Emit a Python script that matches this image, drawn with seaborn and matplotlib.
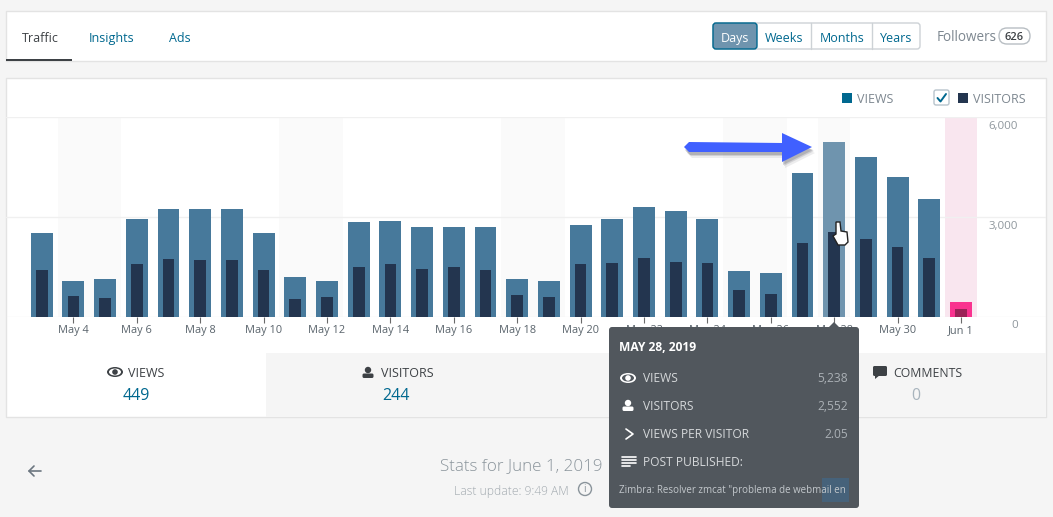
import matplotlib
matplotlib.use("Agg")
import matplotlib.pyplot as plt
from matplotlib.patches import Rectangle, FancyBboxPatch, Polygon, Circle, Ellipse
from matplotlib.transforms import ScaledTranslation
import seaborn as sns
import pandas as pd

# ---- data ----
days = ["May 3","May 4","May 5","May 6","May 7","May 8","May 9","May 10","May 11","May 12",
        "May 13","May 14","May 15","May 16","May 17","May 18","May 19","May 20","May 21","May 22",
        "May 23","May 24","May 25","May 26","May 27","May 28","May 29","May 30","May 31","Jun 1"]
views = [2520,1080,1140,2940,3240,3240,3240,2520,1200,1080,
         2850,2880,2700,2700,2700,1140,1080,2760,2940,3300,
         3180,2940,1380,1320,4320,5238,4800,4200,3540,449]
visitors = [1410,630,570,1590,1740,1710,1710,1410,540,600,
            1500,1590,1440,1500,1410,660,600,1590,1620,1770,
            1650,1620,810,690,2220,2552,2340,2100,1770,244]
weekend_days = ["May 4","May 5","May 11","May 12","May 18","May 19","May 25","May 26"]
hover_day = "May 28"
today = "Jun 1"
tick_days = days[1::2]
y_ticks = [0, 3000, 6000]
y_labels = ["0", "3,000", "6,000"]

VIEW = "#47799b"; VIEW_H = "#6f94ae"; VIEW_T = "#f9328f"
VIS = "#23354f"; VIS_T = "#9b2257"
BG = "#f5f5f5"; BORDER = "#e3e3e3"; LINK = "#00688f"; GREY = "#7d8790"; DARK = "#3d4145"
TIP = "#51575d"; TIPTXT = "#d5d8da"

W, H = 1053, 517
sns.set_theme(style="white")
plt.rcParams["font.family"] = ["Open Sans", "DejaVu Sans"]
fig = plt.figure(figsize=(W/100, H/100), dpi=100, facecolor=BG)

def layer(z):
    a = fig.add_axes([0, 0, 1, 1], zorder=z)
    a.set_xlim(0, W); a.set_ylim(H, 0); a.axis("off"); a.patch.set_alpha(0)
    return a

bg = layer(0)
fg = layer(5)

def px(v): return v * 0.72  # px -> pt

def box(a, x0, y0, x1, y1, fc="white", ec="none", lw=1, z=1, alpha=None):
    a.add_patch(Rectangle((x0, y0), x1-x0, y1-y0, fc=fc, ec=ec, lw=lw, zorder=z, alpha=alpha))

def rbox(a, x0, y0, x1, y1, r=3, fc="white", ec="none", lw=1, z=1):
    a.add_patch(FancyBboxPatch((x0+r, y0+r), x1-x0-2*r, y1-y0-2*r,
                               boxstyle=f"round,pad={r},rounding_size={r}",
                               fc=fc, ec=ec, lw=lw, zorder=z))

def txt(a, x, y, s, size=13, color=DARK, ha="left", weight="normal", z=3):
    a.text(x, y + 1.5, s, fontsize=px(size), color=color, ha=ha, va="center", weight=weight, zorder=z)

def eye(a, cx, cy, c, z=4):
    a.add_patch(Ellipse((cx, cy), 16, 10, fc=c, ec="none", zorder=z))
    a.add_patch(Ellipse((cx, cy), 12, 7, fc=a_bgcolor[id(a)], ec="none", zorder=z))
    a.add_patch(Circle((cx, cy), 2.8, fc=c, ec="none", zorder=z))

def person(a, cx, cy, c, z=4):
    a.add_patch(Circle((cx, cy-3), 3.2, fc=c, ec="none", zorder=z))
    a.add_patch(FancyBboxPatch((cx-4, cy+2), 8, 1.5, boxstyle="round,pad=1.5,rounding_size=1.5",
                               fc=c, ec="none", zorder=z))

a_bgcolor = {id(bg): "white", id(fg): TIP}

# ---- page panels ----
box(bg, 6, 11, 1046, 61, ec=BORDER)
box(bg, 6, 78, 1046, 417, ec=BORDER)
box(bg, 266, 353, 1046, 417, fc=BG)
box(bg, 6, 59, 72, 61, fc=DARK, z=2)

txt(bg, 22, 37, "Traffic", 12.5, DARK)
txt(bg, 89, 37, "Insights", 12.5, LINK)
txt(bg, 169, 37, "Ads", 12.5, LINK)

rbox(bg, 713, 23, 920, 49, fc="white", ec="#cdd2d6")
rbox(bg, 713, 23, 757, 49, fc=VIEW_H, ec=LINK, z=2)
for xs in (811, 872):
    bg.plot([xs, xs], [23, 49], color="#cdd2d6", lw=1, zorder=2)
txt(bg, 735, 37, "Days", 12.5, "white", ha="center")
txt(bg, 784.5, 37, "Weeks", 12.5, LINK, ha="center")
txt(bg, 842, 37, "Months", 12.5, LINK, ha="center")
txt(bg, 896.5, 37, "Years", 12.5, LINK, ha="center")
txt(bg, 937, 36, "Followers", 13.5, GREY)
rbox(bg, 999, 28, 1030, 44, r=8, fc="white", ec="#b8bec3")
txt(bg, 1014.5, 36, "626", 11, DARK, ha="center", weight="semibold")

# legend
box(bg, 842, 93, 852, 103, fc=LINK)
txt(bg, 857, 98, "VIEWS", 12.5, GREY)
rbox(bg, 934, 90, 949, 105, r=2, fc="white", ec="#b8c4cc")
bg.plot([937.5, 940.5, 946], [98, 101.5, 94], color=LINK, lw=1.4, zorder=3)
box(bg, 958, 93, 968, 103, fc=VIS)
txt(bg, 973, 98, "VISITORS", 12.5, GREY)

# ---- chart ----
X0, STEP = 41.7, 31.7
L, R, T, B = 6, 1046, 117, 317
ax = fig.add_axes([L/W, 1-B/H, (R-L)/W, (B-T)/H], zorder=2)
ax.patch.set_alpha(0)
sns.despine(ax=ax, left=True, bottom=True, top=True, right=True)

df = pd.DataFrame({"pos": range(len(days)), "day": days, "views": views, "visitors": visitors})
view_colors = [VIEW_T if d == today else VIEW_H if d == hover_day else VIEW for d in days]
vis_colors = [VIS_T if d == today else VIS for d in days]

sns.barplot(data=df, x="pos", y="views", hue="pos", palette=view_colors, legend=False,
            native_scale=True, width=0.69, dodge=False, saturation=1, linewidth=0, ax=ax, zorder=3)
sns.barplot(data=df, x="pos", y="visitors", hue="pos", palette=vis_colors, legend=False,
            native_scale=True, width=0.37, dodge=False, saturation=1, linewidth=0, ax=ax, zorder=4)

for d in weekend_days + [hover_day]:
    i = days.index(d)
    ax.axvspan(i-0.5, i+0.5, color="#fafafa", lw=0, zorder=0)
i = days.index(today)
ax.axvspan(i-0.5, i+0.5, color="#f9e6ef", lw=0, zorder=0)

ax.set_xlim((L-X0)/STEP, (R-X0)/STEP)
ax.set_ylim(0, 6000)
for v in y_ticks:
    ax.axhline(v, color="#f0f0f0", lw=1, zorder=1)
ax.set_xlabel(""); ax.set_ylabel("")
ax.set_xticks([days.index(d) for d in tick_days])
ax.set_xticklabels(tick_days, fontsize=px(11), color="#5a646c")
ax.tick_params(axis="x", length=4, width=0.8, color="#6a6a6a", pad=2, bottom=True)
ax.yaxis.tick_right()
ax.set_yticks(y_ticks)
ax.set_yticklabels(y_labels, fontsize=px(11.5), color="#8f979d", va="top", ha="right")
ax.tick_params(axis="y", length=0, pad=-20)
off = ScaledTranslation(0, -3.5/100, fig.dpi_scale_trans)
for lab in ax.get_yticklabels():
    lab.set_transform(lab.get_transform() + off)

# ---- stats row ----
eye(bg, 115, 372, DARK)
txt(bg, 128, 372, "VIEWS", 12.5, DARK)
txt(bg, 136, 394.5, "449", 16, LINK, ha="center")
person(bg, 368, 373, DARK)
txt(bg, 381, 372, "VISITORS", 12.5, DARK)
txt(bg, 396, 394.5, "244", 16, LINK, ha="center")
rbox(bg, 873, 366, 887, 376, r=1.5, fc=DARK)
bg.add_patch(Polygon([[875, 375], [880, 375], [875, 379]], fc=DARK, ec="none", zorder=2))
txt(bg, 893, 372, "COMMENTS", 12.2, DARK)
txt(bg, 916, 394.5, "0", 16, "#a8b4bd", ha="center")

# ---- footer ----
bg.plot([29, 41], [471, 471], color="#6b7680", lw=1.2)
bg.plot([34, 29, 34], [466, 471, 476], color="#6b7680", lw=1.2)
txt(bg, 440, 465, "Stats for June 1, 2019", 17, "#8a949b", weight="light")
txt(bg, 454, 490, "Last update: 9:49 AM", 12, "#a0a8ae", weight="light")
bg.add_patch(Circle((585, 489), 6.5, fc="none", ec="#8a949b", lw=1))
txt(bg, 585, 488, "i", 10, "#8a949b", ha="center")

# ---- arrow annotation ----
shaft = [[689, 142], [782, 143], [782, 133], [812, 147], [782, 162], [782, 152], [689, 152], [684, 147]]
for dx, dy, al in ((3, 6, 0.10), (2, 4, 0.18), (1, 3, 0.25)):
    fg.add_patch(Polygon([[x+dx, y+dy] for x, y in shaft], fc="#55555f", ec="none", alpha=al, zorder=1))
fg.add_patch(Polygon(shaft, fc="#4060ff", ec="none", zorder=2))

# ---- hand cursor ----
hand = [[836, 222], [840, 222], [841, 231], [847, 232], [848, 242], [845, 245],
        [838, 245], [833, 236], [836, 234]]
fg.add_patch(Polygon(hand, fc="white", ec="#222222", lw=1, zorder=2))

# ---- tooltip ----
fg.add_patch(Polygon([[829, 327], [834, 322], [839, 327]], fc=TIP, ec="none", zorder=3))
rbox(fg, 609, 327, 859, 508, r=3, fc=TIP, z=3)
box(fg, 822, 478, 849, 502, fc="#46627a", z=4)
txt(fg, 619, 346, "MAY 28, 2019", 12, "white", weight="bold", z=5)
rows = [("VIEWS", "5,238", 377), ("VISITORS", "2,552", 405), ("VIEWS PER VISITOR", "2.05", 433)]
for name, val, yy in rows:
    txt(fg, 643, yy, name, 12, TIPTXT, z=5)
    txt(fg, 848, yy, val, 12, "#aab0b5", ha="right", z=5)
eye(fg, 628, 378, "white", z=5)
person(fg, 628, 406, "white", z=5)
fg.plot([626, 633, 626], [429, 434, 439], color="white", lw=1.2, zorder=5)
for yy, x1 in ((457, 636), (460, 636), (463, 636), (466, 630)):
    fg.plot([622, x1], [yy, yy], color="white", lw=1.2, zorder=5)
txt(fg, 643, 461, "POST PUBLISHED:", 12, TIPTXT, z=5)
txt(fg, 619, 489, 'Zimbra: Resolver zmcat "problema de webmail en', 9.8, "#c3c8cc", z=5)

fig.savefig("out.png", dpi=100, facecolor=BG)
